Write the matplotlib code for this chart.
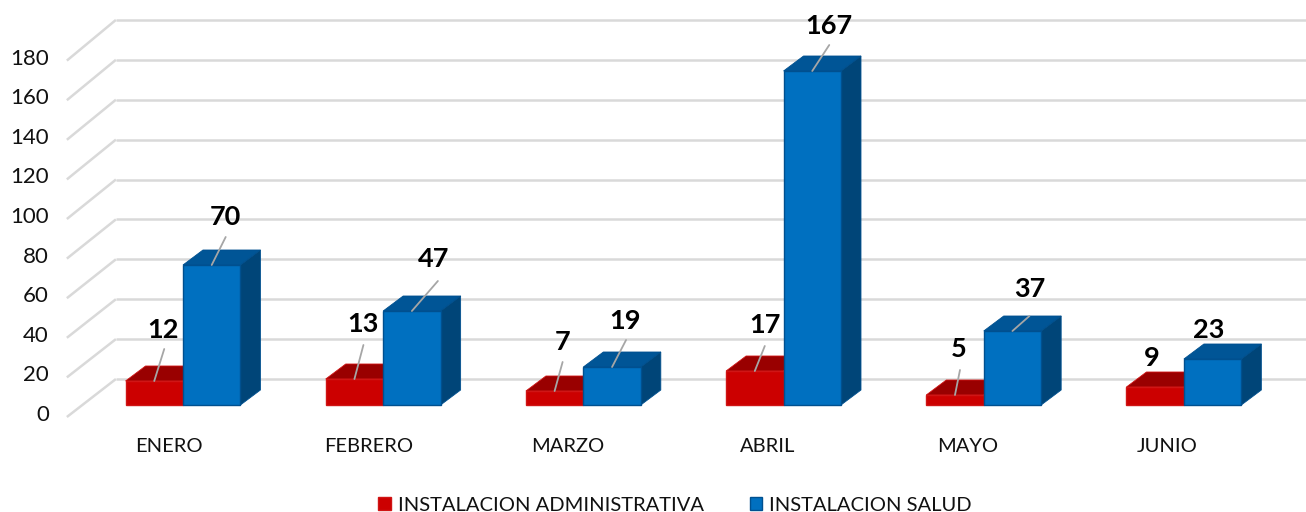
import numpy as np
import matplotlib
matplotlib.use('Agg')
import matplotlib.pyplot as plt
from matplotlib.patches import Polygon

plt.rcParams['font.family'] = ['Lato', 'DejaVu Sans']

meses = ['ENERO', 'FEBRERO', 'MARZO', 'ABRIL', 'MAYO', 'JUNIO']
administrativa = [12, 13, 7, 17, 5, 9]
salud = [70, 47, 19, 167, 37, 23]
ticks_y = [0, 20, 40, 60, 80, 100, 120, 140, 160, 180]

# posicion de etiquetas y guias respecto a la tapa de la barra (pixeles)
off_admin = [(9, 51), (9, 55), (8, 49), (10, 46), (4, 46), (-3, 29)]
off_salud = [(14, 48), (22, 52), (13, 46), (17, 45), (17, 42), (-4, 29)]
guia_admin = [(10, 32), (9, 34), (8, 29), (10, 25), (5, 25), None]
guia_salud = [(14, 28), (26, 30), (14, 27), (17, 26), (17, 15), None]

W, H = 1306, 512
fig = plt.figure(figsize=(W / 100, H / 100), dpi=100)
ax = fig.add_axes([0, 0, 1, 1])
ax.set_xlim(-0.914, 5.61)
ax.set_ylim(-53.5, 202.5)
ax.axis('off')

ancho = 0.287
prof_x, prof_y = 0.1, 7.5        # profundidad de las barras
pared_x, pared_y = 0.245, 19     # profundidad del suelo hasta la pared
base_y = -6                      # frente del suelo, por debajo de la base
esc_grid = 0.9975
esc_tick = 0.99
x_izq = -0.58

gris = '#D9D9D9'
for v in ticks_y:
    y_frente = base_y + v * esc_tick
    y_pared = base_y + v * esc_grid + pared_y
    ax.plot([x_izq, x_izq + pared_x], [y_frente, y_pared], color=gris, lw=1.8, zorder=1,
            solid_capstyle='butt')
    ax.plot([x_izq + pared_x, 5.61], [y_pared, y_pared], color=gris, lw=1.8, zorder=1,
            solid_capstyle='butt')
    ax.text(-0.67, y_frente + 1, str(v), ha='right', va='center', fontsize=16, color='#111111')


def barra_3d(x, v, frente, tapa, lado, borde, z, label=None):
    ax.bar(x, v, width=ancho, color=frente, edgecolor=borde, linewidth=1, zorder=z + 1, label=label)
    iz, de = x - ancho / 2, x + ancho / 2
    ax.add_patch(Polygon([(iz, v), (de, v), (de + prof_x, v + prof_y), (iz + prof_x, v + prof_y)],
                         facecolor=tapa, edgecolor=borde, lw=0.6, zorder=z))
    ax.add_patch(Polygon([(de, 0), (de + prof_x, prof_y), (de + prof_x, v + prof_y), (de, v)],
                         facecolor=lado, edgecolor=borde, lw=0.6, zorder=z))


def etiqueta(x, v, off, guia):
    ax.annotate(str(v), xy=(x, v), xytext=off, textcoords='offset pixels', ha='center', va='center',
                fontsize=19.5, fontweight='bold', color='black', zorder=30)
    if guia is not None:
        ax.annotate('', xy=(x, v), xytext=guia, textcoords='offset pixels',
                    arrowprops=dict(arrowstyle='-', color='#A6A6A6', lw=1.3, shrinkA=0, shrinkB=0),
                    zorder=29)


pos = np.arange(len(meses))
for i in pos:
    etiq_a = 'INSTALACION ADMINISTRATIVA' if i == 0 else None
    etiq_s = 'INSTALACION SALUD' if i == 0 else None
    barra_3d(i - ancho / 2, administrativa[i], '#CC0000', '#990000', '#990000', '#D01515', 3 + 2 * i, etiq_a)
    barra_3d(i + ancho / 2, salud[i], '#0070C0', '#005596', '#004578', '#00508F', 3.5 + 2 * i, etiq_s)
    etiqueta(i - ancho / 2, administrativa[i], off_admin[i], guia_admin[i])
    etiqueta(i + ancho / 2, salud[i], off_salud[i], guia_salud[i])
    ax.text(i * 0.997 - 0.07, -20.5, meses[i], ha='center', va='center', fontsize=14.5, color='#111111')

ax.legend(loc='lower center', bbox_to_anchor=(0.517, -0.039), ncol=2, frameon=False, fontsize=14.5,
          handlelength=0.62, handleheight=0.62, handletextpad=0.35, columnspacing=2.28,
          labelcolor='#111111')

fig.savefig('out.png', dpi=100)
